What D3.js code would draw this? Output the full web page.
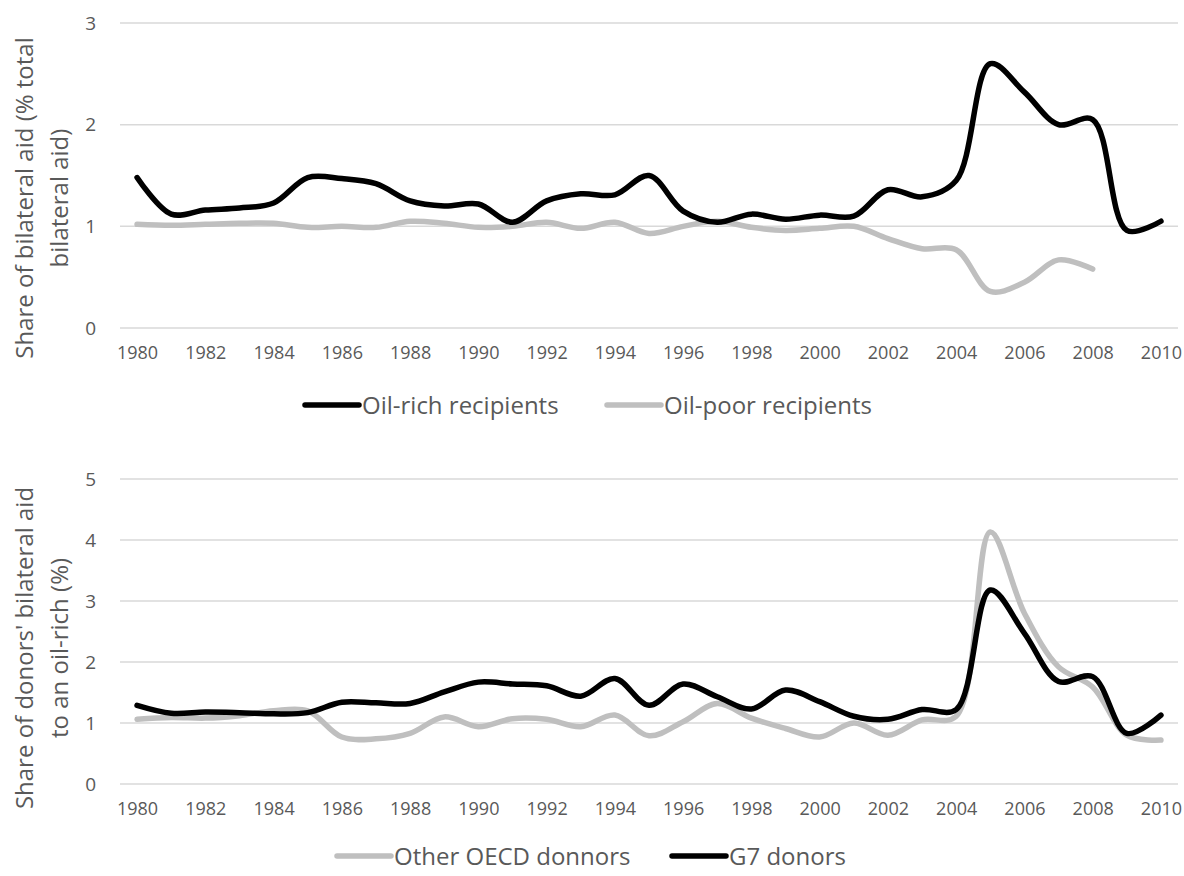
<!DOCTYPE html>
<html>
<head>
<meta charset="utf-8">
<script src="https://cdn.jsdelivr.net/npm/d3@7"></script>
<style>
  body { margin: 0; background: #fff; }
  text { font-family: "Open Sans", "Noto Sans", sans-serif; fill: #595959; }
</style>
</head>
<body>
<div id="chart"></div>
<script>
var years = d3.range(1980, 2011);
var xTickLabels = d3.range(1980, 2011, 2);

var oilRich = [1.48, 1.12, 1.16, 1.18, 1.23, 1.48, 1.47, 1.42, 1.25, 1.20, 1.22, 1.04, 1.25, 1.32, 1.31, 1.50,
    1.15, 1.04, 1.12, 1.07, 1.11, 1.10, 1.36, 1.29, 1.45, 2.60, 2.32, 2.00, 2.05, 0.96, 1.05];
var oilPoor = [1.02, 1.01, 1.02, 1.03, 1.03, 0.99, 1.00, 0.99, 1.05, 1.03, 0.99, 1.00, 1.04, 0.98, 1.04, 0.93,
    1.00, 1.05, 0.99, 0.96, 0.98, 1.00, 0.88, 0.78, 0.77, 0.36, 0.45, 0.67, 0.58, null, null];

var otherOECD = [1.06, 1.09, 1.08, 1.12, 1.20, 1.20, 0.77, 0.74, 0.83, 1.10, 0.94, 1.07, 1.06, 0.94, 1.13, 0.79,
    1.02, 1.32, 1.08, 0.91, 0.77, 1.00, 0.80, 1.05, 1.11, 4.13, 2.80, 1.92, 1.59, 0.80, 0.72];
var g7 = [1.29, 1.16, 1.18, 1.17, 1.15, 1.17, 1.34, 1.33, 1.32, 1.51, 1.67, 1.64, 1.61, 1.44, 1.73, 1.29,
    1.64, 1.43, 1.23, 1.54, 1.35, 1.11, 1.06, 1.22, 1.22, 3.18, 2.47, 1.68, 1.76, 0.83, 1.13];

var topTicks = [0, 1, 2, 3];
var bottomTicks = [0, 1, 2, 3, 4, 5];

var svgWidth = 1184;
var svgHeight = 876;
var left = 120, right = 1178;

var svg = d3.select("#chart")
    .append("svg")
    .attr("width", svgWidth)
    .attr("height", svgHeight);

var xScale = d3.scalePoint()
    .domain(years)
    .range([left, right])
    .padding(0.5);

function drawPanel(cfg) {
    var yScale = d3.scaleLinear()
        .domain([0, cfg.max])
        .range([cfg.bottom, cfg.top]);

    var g = svg.append("g");

    // gridlines
    g.selectAll("line.grid")
        .data(cfg.ticks)
        .enter()
        .append("line")
        .attr("x1", left)
        .attr("x2", right)
        .attr("y1", d => yScale(d))
        .attr("y2", d => yScale(d))
        .attr("stroke", "#d9d9d9")
        .attr("stroke-width", 1.5);

    var leftAxis = d3.axisLeft(yScale)
        .tickValues(cfg.ticks)
        .tickFormat(d3.format("d"))
        .tickSize(0)
        .tickPadding(0);
    var yAxis = g.append("g")
        .attr("transform", "translate(96,0)")
        .call(leftAxis);
    yAxis.select(".domain").remove();
    yAxis.selectAll("text").attr("font-size", "19px").attr("fill", "#595959");

    var bottomAxis = d3.axisBottom(xScale)
        .tickValues(xTickLabels)
        .tickSize(0)
        .tickPadding(0);
    var xAxis = g.append("g")
        .attr("transform", `translate(0, ${cfg.bottom + 18})`)
        .call(bottomAxis);
    xAxis.select(".domain").remove();
    xAxis.selectAll("text").attr("font-size", "18px").attr("fill", "#595959");

    var line = d3.line()
        .defined(d => d.v != null)
        .x(d => xScale(d.year))
        .y(d => yScale(d.v))
        .curve(d3.curveCatmullRom.alpha(0.5));

    cfg.series.forEach(s => {
        var pts = years.map((y, i) => ({year: y, v: s.values[i]}));
        g.append("path")
            .datum(pts)
            .attr("fill", "none")
            .attr("stroke", s.color)
            .attr("stroke-width", 5.5)
            .attr("stroke-linecap", "round")
            .attr("stroke-linejoin", "round")
            .attr("d", line);
    });

    // axis title
    cfg.title.forEach((t, i) => {
        g.append("text")
            .attr("transform", `translate(${25 + i * 35}, ${cfg.titleY}) rotate(-90)`)
            .attr("text-anchor", "middle")
            .attr("dy", "0.35em")
            .attr("font-size", "24px")
            .text(t);
    });

    // legend
    cfg.legend.forEach(l => {
        g.append("line")
            .attr("x1", l.x)
            .attr("x2", l.x + 54)
            .attr("y1", cfg.legendY)
            .attr("y2", cfg.legendY)
            .attr("stroke", l.color)
            .attr("stroke-width", 5.5)
            .attr("stroke-linecap", "round");
        g.append("text")
            .attr("x", l.x + 57)
            .attr("y", cfg.legendY)
            .attr("dy", "0.36em")
            .attr("font-size", "24px")
            .text(l.name);
    });
}

drawPanel({
    top: 23, bottom: 328, max: 3, ticks: topTicks,
    series: [
        {values: oilPoor, color: "#bfbfbf"},
        {values: oilRich, color: "#000000"}
    ],
    title: ["Share of bilateral aid (% total", "bilateral aid)"],
    titleY: 198,
    legendY: 405,
    legend: [
        {x: 305, name: "Oil-rich recipients", color: "#000000"},
        {x: 607, name: "Oil-poor recipients", color: "#bfbfbf"}
    ]
});

drawPanel({
    top: 479, bottom: 784, max: 5, ticks: bottomTicks,
    series: [
        {values: otherOECD, color: "#bfbfbf"},
        {values: g7, color: "#000000"}
    ],
    title: ["Share of donors' bilateral aid", "to an oil-rich (%)"],
    titleY: 648,
    legendY: 856,
    legend: [
        {x: 337, name: "Other OECD donnors", color: "#bfbfbf"},
        {x: 672, name: "G7 donors", color: "#000000"}
    ]
});
</script>
</body>
</html>
